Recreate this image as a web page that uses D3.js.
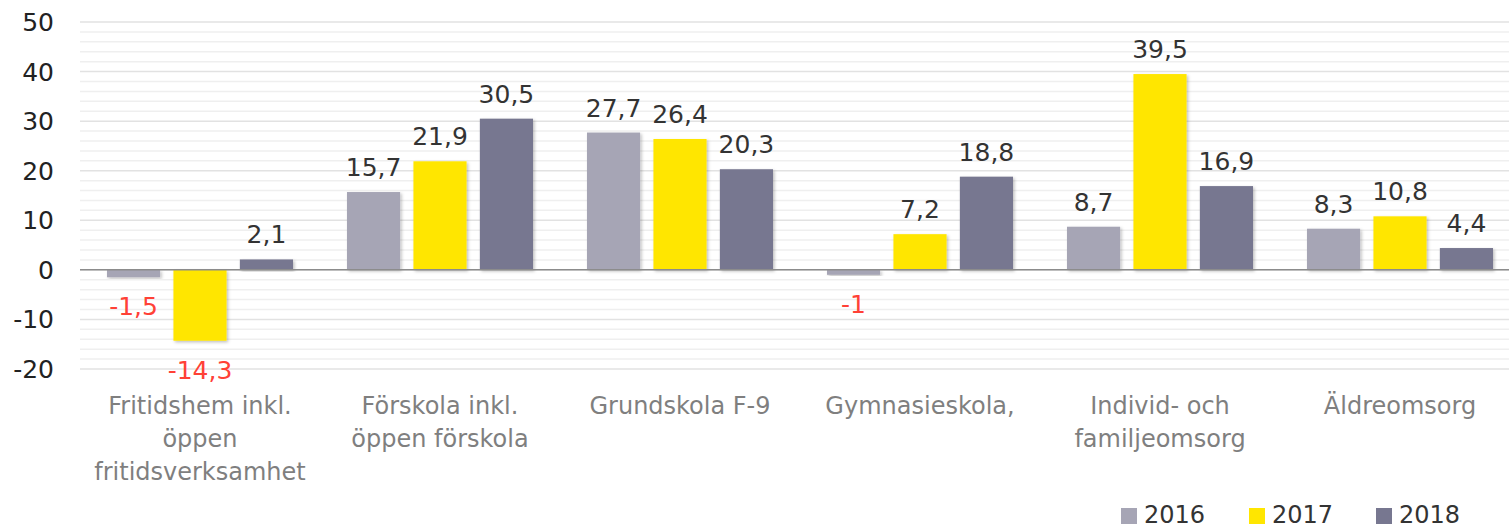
<!DOCTYPE html>
<html>
<head>
<meta charset="utf-8">
<script src="https://cdn.jsdelivr.net/npm/d3@7"></script>
<style>
  body { margin: 0; background: #fff; }
  svg { display: block; font-family: "DejaVu Sans", sans-serif; }
</style>
</head>
<body>
<div id="chart"></div>
<script>
var categories = [
    ["Fritidshem inkl.", "öppen", "fritidsverksamhet"],
    ["Förskola inkl.", "öppen förskola"],
    ["Grundskola F-9"],
    ["Gymnasieskola,"],
    ["Individ- och", "familjeomsorg"],
    ["Äldreomsorg"]
];
var years = ["2016", "2017", "2018"];
var values2016 = [-1.5, 15.7, 27.7, -1, 8.7, 8.3];
var values2017 = [-14.3, 21.9, 26.4, 7.2, 39.5, 10.8];
var values2018 = [2.1, 30.5, 20.3, 18.8, 16.9, 4.4];
var yTicks = [-20, -10, 0, 10, 20, 30, 40, 50];
var colors = ["#a6a5b5", "#ffe600", "#777790"];

var width = 1509, height = 528;
var series = [values2016, values2017, values2018];

var svg = d3.select("#chart").append("svg")
    .attr("width", width)
    .attr("height", height);

var y = d3.scaleLinear().domain([-20, 50]).range([369, 22]);
var x0 = d3.scaleBand().domain(d3.range(categories.length)).range([80, 1520]);
var x1 = d3.scaleBand().domain(years).range([27, 213]).paddingInner(0.2);

// gridlines every 2, majors a bit darker
svg.append("g").selectAll("line")
    .data(d3.range(-20, 51, 2))
    .enter().append("line")
    .attr("x1", 80).attr("x2", width)
    .attr("y1", function(d) { return y(d); })
    .attr("y2", function(d) { return y(d); })
    .attr("stroke", function(d) { return d % 10 === 0 ? "#e2e2e2" : "#efefef"; })
    .attr("stroke-width", 1.5);

svg.append("g").selectAll("text")
    .data(yTicks)
    .enter().append("text")
    .attr("x", 54)
    .attr("y", function(d) { return y(d); })
    .attr("dy", "0.36em")
    .attr("text-anchor", "end")
    .attr("font-size", 25)
    .attr("fill", "#222")
    .text(function(d) { return d; });

var defs = svg.append("defs");
var filter = defs.append("filter").attr("id", "shadow")
    .attr("x", "-10%").attr("y", "-10%").attr("width", "130%").attr("height", "130%");
filter.append("feDropShadow")
    .attr("dx", 1.5).attr("dy", 1.5).attr("stdDeviation", 1.5)
    .attr("flood-color", "#000").attr("flood-opacity", 0.25);

var groups = svg.append("g").selectAll("g")
    .data(categories)
    .enter().append("g")
    .attr("transform", function(d, i) { return "translate(" + x0(i) + ",0)"; });

groups.each(function(cat, i) {
    var g = d3.select(this);
    years.forEach(function(yr, s) {
        var v = series[s][i];
        g.append("rect")
            .attr("x", x1(yr))
            .attr("width", x1.bandwidth())
            .attr("y", y(Math.max(0, v)))
            .attr("height", Math.abs(y(v) - y(0)))
            .attr("fill", colors[s])
            .attr("filter", "url(#shadow)");
        g.append("text")
            .attr("x", x1(yr) + x1.bandwidth() / 2)
            .attr("y", v >= 0 ? y(v) - 16 : y(v) + 38)
            .attr("text-anchor", "middle")
            .attr("font-size", 25)
            .attr("fill", v >= 0 ? "#333" : "#ff4136")
            .text(String(v).replace(".", ","));
    });
    g.append("text")
        .attr("x", x0.bandwidth() / 2)
        .attr("y", 414)
        .attr("text-anchor", "middle")
        .attr("font-size", 24)
        .attr("fill", "#7f7f7f")
        .selectAll("tspan")
        .data(cat)
        .enter().append("tspan")
        .attr("x", x0.bandwidth() / 2)
        .attr("dy", function(d, j) { return j === 0 ? 0 : 33; })
        .text(function(d) { return d; });
});

// zero line
svg.append("line")
    .attr("x1", 80).attr("x2", width)
    .attr("y1", y(0)).attr("y2", y(0))
    .attr("stroke", "#8c8c8c")
    .attr("stroke-width", 1.5);

// legend
var legendX = [1121, 1249, 1376];
var legend = svg.append("g").selectAll("g")
    .data(years)
    .enter().append("g")
    .attr("transform", function(d, i) { return "translate(" + legendX[i] + ",508)"; });
legend.append("rect")
    .attr("width", 16).attr("height", 16)
    .attr("fill", function(d, i) { return colors[i]; });
legend.append("text")
    .attr("x", 23).attr("y", 15)
    .attr("font-size", 24)
    .attr("fill", "#333")
    .text(function(d) { return d; });
</script>
</body>
</html>
